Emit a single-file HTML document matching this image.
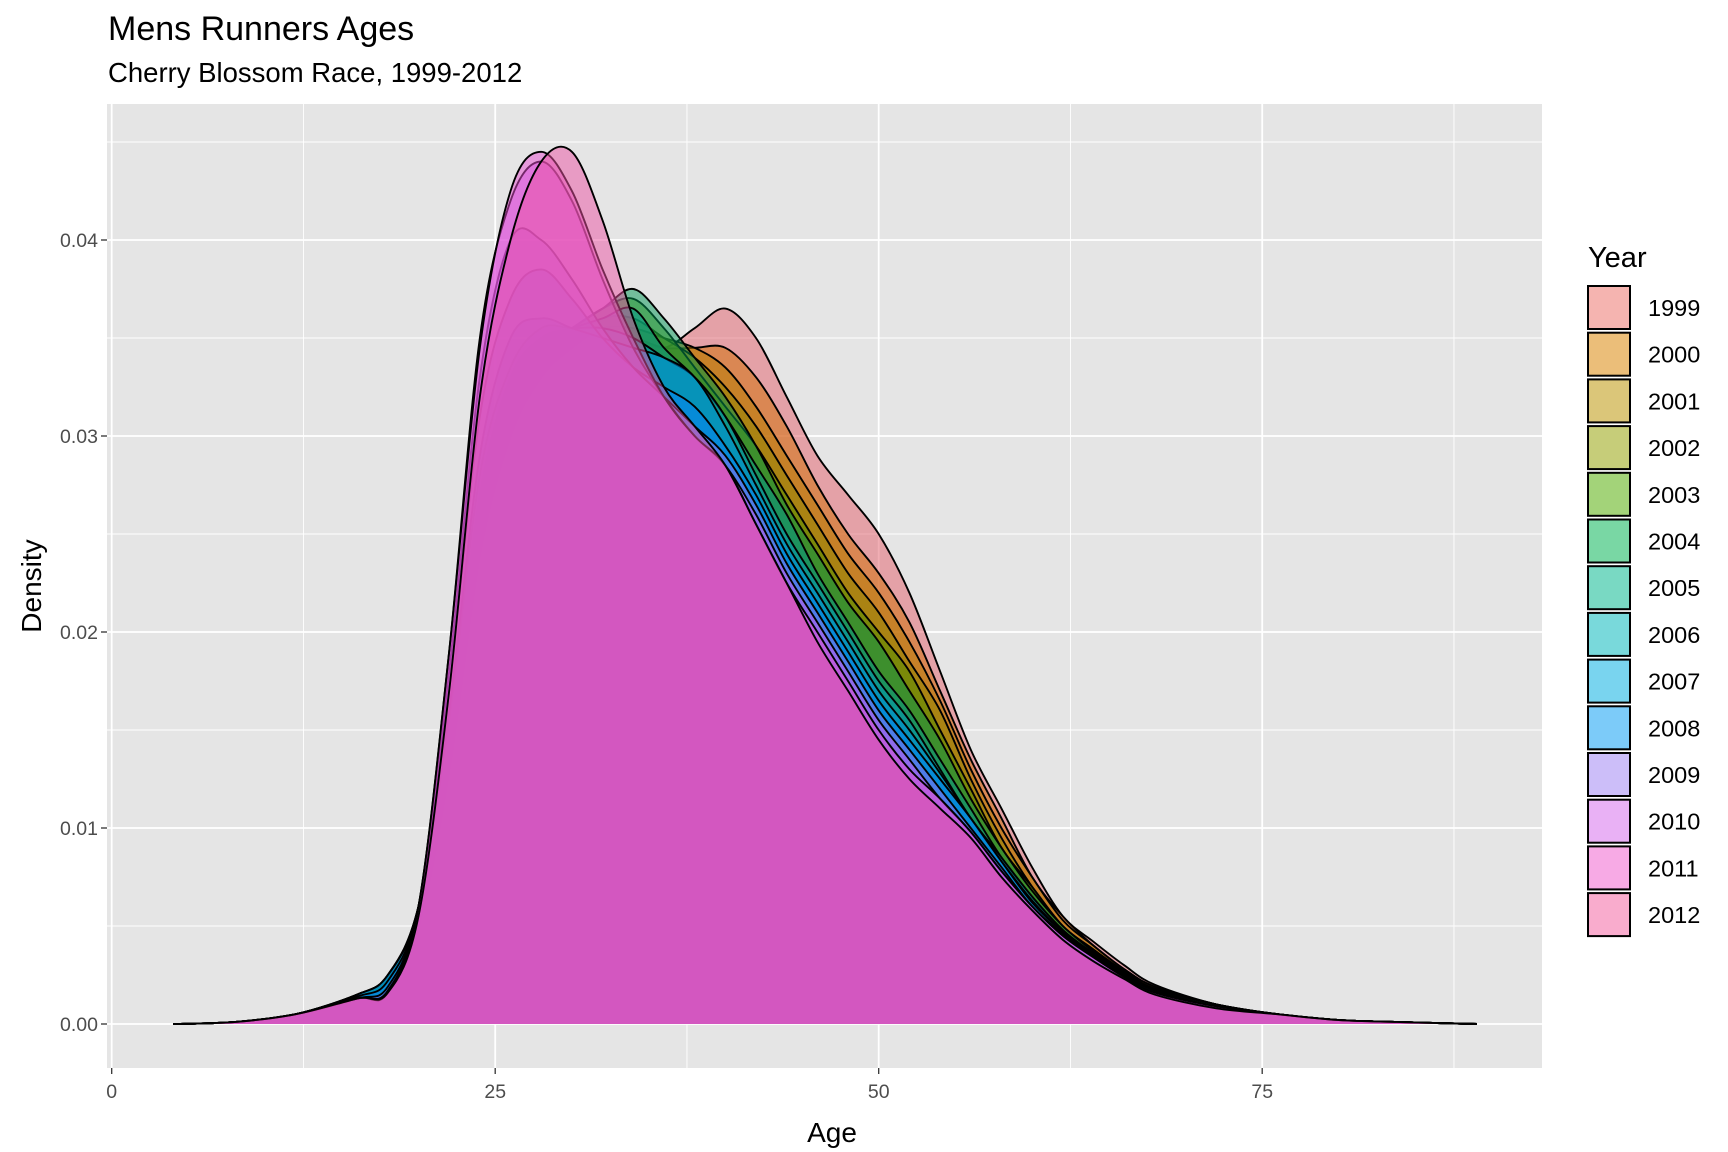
<!DOCTYPE html>
<html><head><meta charset="utf-8"><style>
html,body{margin:0;padding:0;background:#fff}
svg{display:block;font-family:"Liberation Sans",Arial,sans-serif}
</style></head><body>
<svg id="chart" width="1728" height="1152" viewBox="0 0 1728 1152" xmlns="http://www.w3.org/2000/svg">
<defs>
<filter id="tone" color-interpolation-filters="sRGB"><feColorMatrix type="matrix" values="0.92 0 0 0 0  0 0.8 0 0 0  0 0 0.97 0 0  0 0 0 1 0"/></filter>
</defs>
<rect x="0" y="0" width="1728" height="1152" fill="#fff"/>
<rect x="107" y="104" width="1435" height="964" fill="#e5e5e5"/>
<g id="grid"></g>
<g id="areas"></g>
<g id="axes"></g>
<text x="108" y="40" font-size="34" fill="#000">Mens Runners Ages</text>
<text x="108" y="82" font-size="27.5" fill="#000">Cherry Blossom Race, 1999-2012</text>
<text x="832" y="1142" font-size="28" text-anchor="middle" fill="#000">Age</text>
<text transform="translate(41,586) rotate(-90)" font-size="28" text-anchor="middle" fill="#000">Density</text>
<text x="1588" y="267" font-size="29" fill="#000">Year</text>
<g id="legend"></g>
</svg>
<script>
const ages = [4,8,12,16,18,20,22,24,26,28,30,32,34,36,38,40,42,44,46,48,50,52,54,56,58,60,62,64,66,68,72,76,80,84,89];
const years = ["1999","2000","2001","2002","2003","2004","2005","2006","2007","2008","2009","2010","2011","2012"];
// densities in thousandths
const d1999 = [0,0.1,0.5,1.4,2.2,4.5,12,22,28,31,33,34.5,35,34.5,35.5,36.5,35,32,29,27,25,22,18,14,11,8,5.5,4.2,3,2,1,0.5,0.2,0.1,0];
const d2000 = [0,0.1,0.5,1.4,2.2,4.5,12,22,29,32,34,35,35,34.5,34.5,34.5,33,30.5,27.5,25,23,20.5,17,13.5,10.5,7.5,5.5,4,2.8,1.9,1,0.5,0.2,0.1,0];
const d2001 = [0,0.1,0.5,1.4,2.3,5,13,24,30,33,34.5,35.5,35.5,35,34.5,33.5,31.5,29,26.5,24,22,19.5,16.5,13,10,7.5,5.3,4,2.8,1.9,1,0.5,0.2,0.1,0];
const d2002 = [0,0.1,0.5,1.4,2.3,5,13.5,25,31,34,35,36,36,35,34,32.5,30.5,28,25.5,23,21,18.5,16,12.5,9.5,7,5,3.8,2.7,1.8,1,0.5,0.2,0.1,0];
const d2003 = [0,0.1,0.5,1.5,2.4,5.5,14,26,32,34.5,35.5,36.5,37,35.5,33.5,31.5,29.5,27,24.5,22,20,18,15,12,9,7,5,3.8,2.6,1.8,1,0.5,0.2,0.1,0];
const d2004 = [0,0.1,0.5,1.5,2.4,5.5,14,26,32,34.5,35.5,36.5,37.5,36,34,32,29.5,26.5,24,21.5,19.5,17,14.5,11.5,9,6.8,5,3.7,2.6,1.8,1,0.5,0.2,0.1,0];
const d2005 = [0,0.1,0.5,1.5,2.5,6,15,27,33,35,35.5,36,36.5,34.5,33,31,28.5,26,23,20.5,18,16,13.5,11,8.5,6.5,4.8,3.6,2.5,1.7,0.9,0.5,0.2,0.1,0];
const d2006 = [0,0.1,0.5,1.5,2.5,6,15.5,28,33.5,35.5,35.5,35.5,35,34,33,31,28,25,22.5,20,17.5,15.5,13,10.5,8.5,6.5,4.8,3.5,2.5,1.7,0.9,0.5,0.2,0.1,0];
const d2007 = [0,0.1,0.5,1.5,2.5,6,16,29,35,36,35.5,35,34.5,34,33,30.5,27.5,24.5,22,19.5,17,15,12.8,10.5,8.3,6.3,4.7,3.5,2.5,1.7,0.9,0.5,0.2,0.1,0];
const d2008 = [0,0.1,0.5,1.4,2.2,6,17,31,37,38.5,37,35,33.5,32.5,31.5,29.5,27,24,21.5,19,16.5,14.5,12.5,10.5,8.3,6.2,4.7,3.5,2.5,1.7,0.9,0.5,0.2,0.1,0];
const d2009 = [0,0.1,0.5,1.3,1.9,6,18,33,40,40,38,35.5,33.5,32,30.5,29,26.5,23.5,21,18.5,16,14,12,10,8,6,4.6,3.4,2.4,1.6,0.9,0.5,0.2,0.1,0];
const d2010 = [0,0.1,0.5,1.3,1.7,6,19,35,42,44,42,38,34.5,32,30,28.5,26,23,20.5,18,15.5,13.5,11.5,9.8,7.8,6,4.5,3.4,2.4,1.6,0.9,0.5,0.2,0.1,0];
const d2011 = [0,0.1,0.5,1.3,1.6,6,19,34.5,42.5,44.5,42.5,38.5,35,32,30,28.5,25.5,22.5,20,17.5,15,13,11.5,9.8,7.8,6,4.5,3.4,2.4,1.6,0.9,0.5,0.2,0.1,0];
const d2012 = [0,0.1,0.5,1.3,1.6,5.5,17,32,40,44,44.5,41,36,32.5,30.5,28.5,25.5,22.5,19.5,17,14.5,12.5,11,9.5,7.5,5.8,4.3,3.2,2.3,1.5,0.8,0.5,0.2,0.1,0];
const series = [d1999,d2000,d2001,d2002,d2003,d2004,d2005,d2006,d2007,d2008,d2009,d2010,d2011,d2012];
const xTicks = [0,25,50,75];
const yTicks = [0,0.01,0.02,0.03,0.04];
const yTickLabels = ["0.00","0.01","0.02","0.03","0.04"];
const colors = ["#F8766D","#E38900","#C49A00","#99A800","#53B400","#00BC56","#00C094","#00BFC4","#00B6EB","#06A4FF","#A58AFF","#DF70F8","#FB61D7","#FF66A8"];

const NS="http://www.w3.org/2000/svg";
function x(a){return 111.7 + a*15.34;}
function y(v){return 1024 - v*19600;}
function yk(v){return y(v/1000);}
function el(t,attrs,parent){const e=document.createElementNS(NS,t);for(const k in attrs)e.setAttribute(k,attrs[k]);parent.appendChild(e);return e;}
const PL=107,PR=1542,PT=104,PB=1068;

const grid=document.getElementById('grid');
[12.5,37.5,62.5,87.5].forEach(a=>{const l=el('line',{x1:x(a),x2:x(a),y1:PT,y2:PB,stroke:'#fff','stroke-width':0.9},grid);

});
[0.005,0.015,0.025,0.035,0.045].forEach(v=>{if(y(v)<PT)return;const l=el('line',{x1:PL,x2:PR,y1:y(v),y2:y(v),stroke:'#fff','stroke-width':0.9},grid);

});
xTicks.forEach(a=>{const l=el('line',{x1:x(a),x2:x(a),y1:PT,y2:PB,stroke:'#fff','stroke-width':1.8},grid);

});
yTicks.forEach(v=>{const l=el('line',{x1:PL,x2:PR,y1:y(v),y2:y(v),stroke:'#fff','stroke-width':1.8},grid);

});

function pathFor(vals){
  const pts=ages.map((a,i)=>[x(a),yk(vals[i])]);
  const base=y(0);
  let d='M'+pts[0][0]+','+pts[0][1];
  for(let i=0;i<pts.length-1;i++){
    const p0=pts[Math.max(0,i-1)],p1=pts[i],p2=pts[i+1],p3=pts[Math.min(pts.length-1,i+2)];
    const c1x=p1[0]+(p2[0]-p0[0])/6,c1y=p1[1]+(p2[1]-p0[1])/6;
    const c2x=p2[0]-(p3[0]-p1[0])/6,c2y=p2[1]-(p3[1]-p1[1])/6;
    d+=' C'+c1x+','+Math.min(c1y,base)+' '+c2x+','+Math.min(c2y,base)+' '+p2[0]+','+p2[1];
  }
  return d;
}
const areas=document.getElementById('areas');
areas.setAttribute('filter','url(#tone)');
series.forEach((vals,i)=>{
  const d=pathFor(vals);
  const f=el('path',{d:d+' L'+x(ages[ages.length-1])+','+y(0)+' L'+x(ages[0])+','+y(0)+' Z',fill:colors[i],'fill-opacity':0.5,stroke:'none'},areas);
  
  
  const s=el('path',{d:d,fill:'none',stroke:'#000','stroke-width':1.9},areas);
  
  
});

const axes=document.getElementById('axes');
xTicks.forEach(a=>{
  const t=el('line',{x1:x(a),x2:x(a),y1:PB,y2:PB+6,stroke:'#333','stroke-width':1.3},axes);
  
  
  const l=el('text',{x:x(a),y:PB+30,'font-size':19.5,'text-anchor':'middle',fill:'#4d4d4d'},axes);l.textContent=a;
  
  
});
yTicks.forEach((v,i)=>{
  const t=el('line',{x1:PL-6,x2:PL,y1:y(v),y2:y(v),stroke:'#333','stroke-width':1.3},axes);
  
  
  const l=el('text',{x:PL-9,y:y(v)+7,'font-size':19.5,'text-anchor':'end',fill:'#4d4d4d'},axes);l.textContent=yTickLabels[i];
  
  
});

const legend=document.getElementById('legend');
years.forEach((yr,i)=>{
  const top=285+i*46.7;
  el('rect',{x:1587,y:top,width:44,height:45,fill:'#f2f2f2',stroke:'none'},legend);
  const r2=el('rect',{x:1588,y:top+1,width:42,height:43,fill:colors[i],'fill-opacity':0.5,stroke:'#000','stroke-width':2},legend);
  
  
  const t=el('text',{x:1648,y:top+31,'font-size':23.5,fill:'#000'},legend);t.textContent=yr;
  
  
});
</script>
</body></html>
